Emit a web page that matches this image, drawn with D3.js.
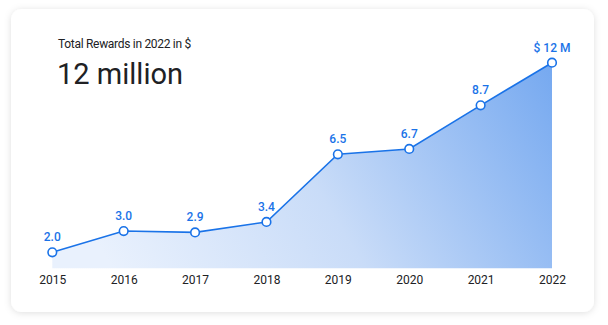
<!DOCTYPE html>
<html>
<head>
<meta charset="utf-8">
<script src="https://cdn.jsdelivr.net/npm/d3@7"></script>
<style>
  body { margin: 0; background: #fff; }
  svg { display: block; font-family: "Roboto", "Open Sans", sans-serif; }
</style>
</head>
<body>
<div id="chart"></div>
<script>
// Data
var years = ["2015", "2016", "2017", "2018", "2019", "2020", "2021", "2022"];
var values = [2.0, 3.12, 3.05, 3.6, 7.17, 7.45, 9.75, 12.0];   // plotted heights
var labels = ["2.0", "3.0", "2.9", "3.4", "6.5", "6.7", "8.7", "$ 12 M"];

var width = 608, height = 325;

var svg = d3.select("#chart").append("svg")
    .attr("width", width)
    .attr("height", height);

var defs = svg.append("defs");

// card shadow
var shadow = defs.append("filter")
    .attr("id", "shadow")
    .attr("x", "-10%").attr("y", "-10%")
    .attr("width", "120%").attr("height", "120%");
shadow.append("feDropShadow")
    .attr("dx", 0).attr("dy", 1)
    .attr("stdDeviation", 3.5)
    .attr("flood-color", "#000")
    .attr("flood-opacity", 0.13);

// area gradient, light bottom-left to blue top-right
var grad = defs.append("linearGradient")
    .attr("id", "areaGrad")
    .attr("gradientUnits", "userSpaceOnUse")
    .attr("x1", 150).attr("y1", 330)
    .attr("x2", 560).attr("y2", 80);
grad.append("stop").attr("offset", "0%").attr("stop-color", "#e9f1fd");
grad.append("stop").attr("offset", "45%").attr("stop-color", "#c9dcf8");
grad.append("stop").attr("offset", "100%").attr("stop-color", "#76a9f0");

svg.append("rect")
    .attr("x", 11).attr("y", 9)
    .attr("width", 583).attr("height", 303)
    .attr("rx", 11)
    .attr("fill", "#fff")
    .attr("filter", "url(#shadow)");

// Titles
svg.append("text")
    .attr("x", 58).attr("y", 48)
    .attr("font-size", 12)
    .attr("letter-spacing", -0.3)
    .attr("fill", "#202124")
    .text("Total Rewards in 2022 in $");

svg.append("text")
    .attr("x", 57).attr("y", 84)
    .attr("font-size", 29)
    .attr("fill", "#202124")
    .text("12 million");

// Scales
var x = d3.scalePoint()
    .domain(years)
    .range([52.3, 552]);

var y = d3.scaleLinear()
    .domain([2, 12])
    .range([252.3, 62.7]);

var base = 268.3;

var data = years.map(function(d, i) {
    return {year: d, value: values[i], label: labels[i]};
});

var area = d3.area()
    .x(function(d) { return x(d.year); })
    .y0(base)
    .y1(function(d) { return y(d.value); });

var line = d3.line()
    .x(function(d) { return x(d.year); })
    .y(function(d) { return y(d.value); });

svg.append("path")
    .datum(data)
    .attr("d", area)
    .attr("fill", "url(#areaGrad)");

svg.append("path")
    .datum(data)
    .attr("d", line)
    .attr("fill", "none")
    .attr("stroke", "#1a73e8")
    .attr("stroke-width", 1.6);

svg.selectAll(".dot")
    .data(data)
  .enter().append("circle")
    .attr("class", "dot")
    .attr("cx", function(d) { return x(d.year); })
    .attr("cy", function(d) { return y(d.value); })
    .attr("r", 4.3)
    .attr("fill", "#fff")
    .attr("stroke", "#1a73e8")
    .attr("stroke-width", 1.6);

svg.selectAll(".val")
    .data(data)
  .enter().append("text")
    .attr("class", "val")
    .attr("x", function(d) { return x(d.year); })
    .attr("y", function(d) { return y(d.value) - 11; })
    .attr("text-anchor", "middle")
    .attr("font-size", 12)
    .attr("font-weight", 500)
    .attr("fill", "#1a73e8")
    .text(function(d) { return d.label; });

// x axis labels
var xAxis = svg.append("g")
    .attr("transform", "translate(0," + base + ")")
    .call(d3.axisBottom(x).tickSize(0).tickPadding(7));
xAxis.select(".domain").remove();
xAxis.selectAll("text")
    .attr("font-family", "Roboto, sans-serif")
    .attr("font-size", 12)
    .attr("fill", "#202124");
</script>
</body>
</html>
